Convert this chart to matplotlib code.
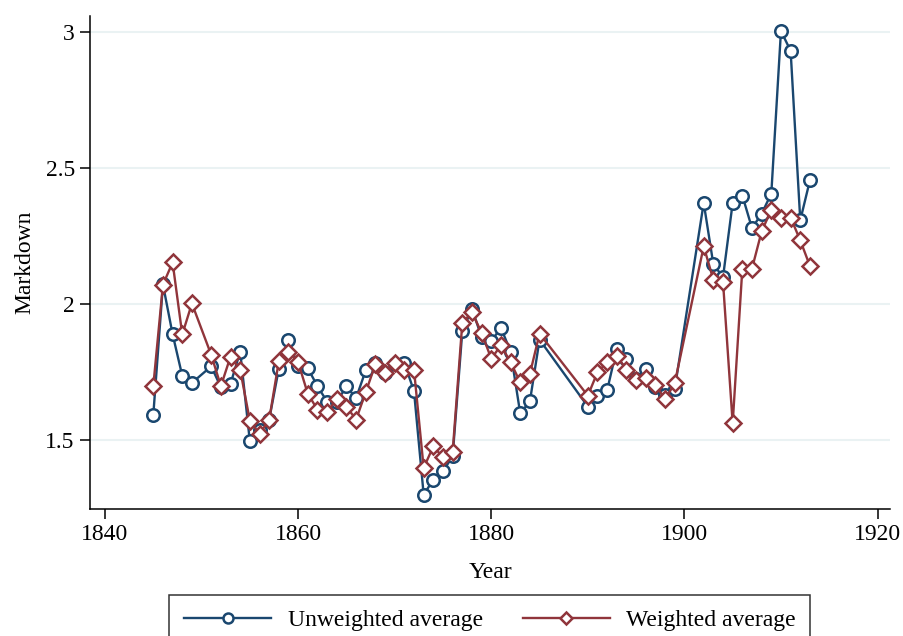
import matplotlib.pyplot as plt

plt.rcParams['font.family'] = ['Liberation Serif', 'DejaVu Serif']

# years with observations (no data for 1850, 1886-1889, 1900-1901)
years = [1845, 1846, 1847, 1848, 1849, 1851, 1852, 1853, 1854, 1855,
         1856, 1857, 1858, 1859, 1860, 1861, 1862, 1863, 1864, 1865,
         1866, 1867, 1868, 1869, 1870, 1871, 1872, 1873, 1874, 1875,
         1876, 1877, 1878, 1879, 1880, 1881, 1882, 1883, 1884, 1885,
         1890, 1891, 1892, 1893, 1894, 1895, 1896, 1897, 1898, 1899,
         1902, 1903, 1904, 1905, 1906, 1907, 1908, 1909, 1910, 1911,
         1912, 1913]

unweighted = [1.592, 2.072, 1.889, 1.736, 1.710, 1.771, 1.694, 1.707, 1.825, 1.495,
              1.537, 1.575, 1.762, 1.866, 1.771, 1.764, 1.698, 1.641, 1.640, 1.697,
              1.654, 1.756, 1.784, 1.747, 1.780, 1.784, 1.679, 1.299, 1.354, 1.385,
              1.440, 1.900, 1.983, 1.878, 1.863, 1.913, 1.825, 1.598, 1.642, 1.869,
              1.623, 1.661, 1.683, 1.836, 1.799, 1.725, 1.762, 1.694, 1.665, 1.688,
              2.372, 2.146, 2.099, 2.372, 2.399, 2.279, 2.332, 2.406, 3.004, 2.931,
              2.308, 2.455]

weighted = [1.698, 2.071, 2.153, 1.888, 2.002, 1.813, 1.698, 1.807, 1.758, 1.571,
            1.522, 1.574, 1.790, 1.825, 1.786, 1.670, 1.612, 1.602, 1.651, 1.623,
            1.575, 1.676, 1.778, 1.746, 1.784, 1.758, 1.758, 1.397, 1.477, 1.436,
            1.455, 1.930, 1.970, 1.894, 1.799, 1.848, 1.786, 1.712, 1.743, 1.891,
            1.663, 1.749, 1.786, 1.810, 1.758, 1.721, 1.728, 1.704, 1.649, 1.709,
            2.212, 2.089, 2.081, 1.561, 2.130, 2.130, 2.267, 2.347, 2.318, 2.318,
            2.234, 2.140]

x_ticks = [1840, 1860, 1880, 1900, 1920]
y_ticks = [1.5, 2, 2.5, 3]
y_labels = ['1.5', '2', '2.5', '3']

navy = '#1a476f'
maroon = '#90353b'

fig = plt.figure(figsize=(9.04, 6.36), dpi=100)
ax = fig.add_axes([0.0996, 0.2, 0.885, 0.7748])

ax.plot(years, unweighted, color=navy, lw=1.7, marker='o', ms=9,
        mfc='white', mec=navy, mew=1.8, label='Unweighted average', zorder=3)
ax.plot(years, weighted, color=maroon, lw=1.7, marker='D', ms=8,
        mfc='white', mec=maroon, mew=1.8, label='Weighted average', zorder=4)

ax.set_xlim(1838.45, 1921.3)
ax.set_ylim(1.247, 3.059)
ax.set_xticks(x_ticks)
ax.set_yticks(y_ticks)
ax.set_yticklabels(y_labels)
ax.yaxis.grid(True, color='#eaf2f3', lw=1.5)
ax.set_axisbelow(True)

for side in ['top', 'right']:
    ax.spines[side].set_visible(False)
for side in ['left', 'bottom']:
    ax.spines[side].set_linewidth(1.1)
ax.tick_params(direction='out', length=7, width=1.1, labelsize=17, pad=4)

ax.set_xlabel('Year', fontsize=17, labelpad=12)
ax.set_ylabel('Markdown', fontsize=17, labelpad=7)

leg = fig.legend(loc='upper center', bbox_to_anchor=(0.542, 0.064), ncol=2,
                 fontsize=17, frameon=True, fancybox=False, edgecolor='black',
                 handlelength=3.7, handletextpad=0.68, columnspacing=1.7,
                 borderpad=0.62, borderaxespad=0, markerscale=0.8)
leg.get_frame().set_linewidth(1.1)

fig.savefig('out.png', dpi=100)
